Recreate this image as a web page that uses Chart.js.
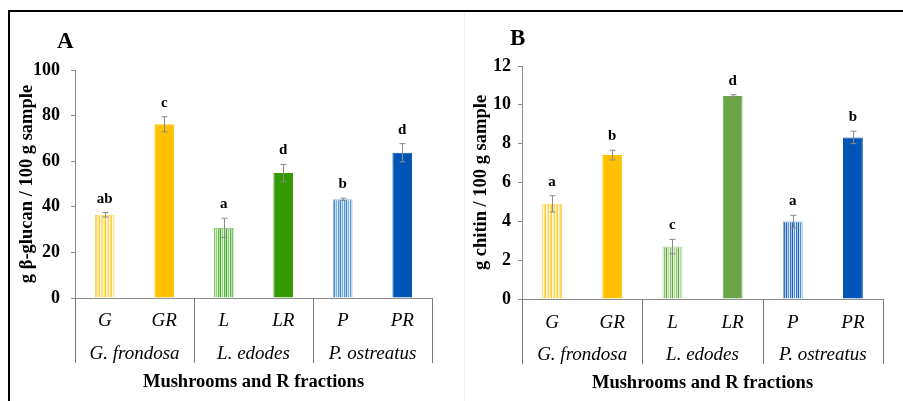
<!DOCTYPE html>
<html>
<head>
<meta charset="utf-8">
<script src="https://cdn.jsdelivr.net/npm/chart.js@4/dist/chart.umd.min.js"></script>
<style>
  html, body { margin: 0; padding: 0; background: #fff; }
  #wrap { position: relative; width: 903px; height: 401px; overflow: hidden; background: #fff; }
  .frame { position: absolute; left: 8px; top: 10px; width: 905px; height: 400px;
           border-top: 2px solid #000; border-left: 2px solid #000; }
  .divider { position: absolute; left: 464px; top: 12px; width: 1px; height: 389px; background: #efefef; }
  .panel { position: absolute; top: 0; height: 401px; }
  .tag { position: absolute; font: bold 23px "Liberation Serif", serif; color: #000; line-height: 1; }
</style>
</head>
<body>
<div id="wrap">
  <div class="frame"></div>
  <div class="divider"></div>
  <div class="panel" style="left:0;width:450px"><canvas id="chartA" width="450" height="401"></canvas></div>
  <div class="panel" style="left:452px;width:451px"><canvas id="chartB" width="451" height="401"></canvas></div>
  <div class="tag" style="left:57px;top:29px">A</div>
  <div class="tag" style="left:510px;top:26px">B</div>
</div>
<script>
// Fractions (x-axis, first row) and the species they come from (second row)
const fractions = ['G', 'GR', 'L', 'LR', 'P', 'PR'];
const species = ['G. frondosa', 'L. edodes', 'P. ostreatus'];
const xTitle = 'Mushrooms and R fractions';

// Panel A: beta-glucan content, g / 100 g sample
const glucan = [36.5, 76.2, 30.8, 54.8, 43.3, 63.7];
const glucanErr = [1.0, 3.3, 4.2, 3.8, 0.5, 4.0];
const glucanLetters = ['ab', 'c', 'a', 'd', 'b', 'd'];
const glucanAxis = { max: 100, step: 20, title: 'g β-glucan / 100 g sample' };

// Panel B: chitin content, g / 100 g sample
const chitin = [4.9, 7.41, 2.7, 10.46, 3.99, 8.32];
const chitinErr = [0.42, 0.25, 0.37, 0.06, 0.32, 0.32];
const chitinLetters = ['a', 'b', 'c', 'd', 'a', 'b'];
const chitinAxis = { max: 12, step: 2, title: 'g chitin / 100 g sample' };

const SERIF = '"Liberation Serif", "Times New Roman", serif';

// vertical-stripe fill for the whole-mushroom bars
function stripes(cols) {
  const c = document.createElement('canvas');
  c.width = cols.length; c.height = 4;
  const g = c.getContext('2d');
  cols.forEach((col, i) => { g.fillStyle = col; g.fillRect(i, 0, 1, 4); });
  return g.createPattern(c, 'repeat');
}

const fillsA = [
  stripes(['#FFD966', '#FFF2CC', '#FFE08A', '#FFCC33', '#FFF7E0', '#FFE699']),
  '#FFC000',
  stripes(['#8FD07A', '#E2F3DA', '#5DBB47', '#B5E0A5', '#3FA92E', '#D4EDCB']),
  '#339A00',
  stripes(['#7EB3E3', '#DDEBF7', '#5B9BD5', '#B0D0EE', '#3E86CC', '#CFE2F4']),
  '#0054B5'
];
const fillsB = [
  stripes(['#FFD966', '#FFF2CC', '#FFE08A', '#FFCC33', '#FFF7E0', '#FFE699']),
  '#FFC000',
  stripes(['#B8DBA6', '#E6F2DE', '#8CC46D', '#CFE6C2', '#5FA83A', '#DCEDD3']),
  '#6AA446',
  stripes(['#4F8FD6', '#E0ECF8', '#2F74C8', '#A9C9EC', '#1F5FB8', '#CADDF3']),
  '#0054B5'
];
const edgesA = ['#FFD34D', '#FFC000', '#7CC45F', '#339A00', '#8AB9E6', '#0054B5'];
const edgesB = ['#FFD34D', '#FFC000', '#A3D18A', '#6AA446', '#5E9BDC', '#0054B5'];

// error bars, significance letters and group separators
const annotate = {
  id: 'annotate',
  afterDatasetsDraw(chart, args, opts) {
    const { ctx, chartArea: ca, scales: { x, y } } = chart;
    const vals = chart.data.datasets[0].data;
    ctx.save();
    ctx.strokeStyle = '#8a8a8a';
    ctx.lineWidth = 1;
    vals.forEach((v, i) => {
      const px = Math.round(x.getPixelForValue(i)) + 0.5;
      const t = y.getPixelForValue(v + opts.err[i]);
      const b = y.getPixelForValue(v - opts.err[i]);
      ctx.beginPath();
      ctx.moveTo(px, t); ctx.lineTo(px, b);
      ctx.moveTo(px - 3, t); ctx.lineTo(px + 3, t);
      ctx.moveTo(px - 3, b); ctx.lineTo(px + 3, b);
      ctx.stroke();
    });
    ctx.fillStyle = '#000';
    ctx.font = 'bold 15px ' + SERIF;
    ctx.textAlign = 'center';
    ctx.textBaseline = 'alphabetic';
    vals.forEach((v, i) => {
      ctx.fillText(opts.letters[i], x.getPixelForValue(i), y.getPixelForValue(v + opts.err[i]) - 10);
    });
    ctx.strokeStyle = '#7a7a7a';
    const bounds = [ca.left,
      (x.getPixelForValue(1) + x.getPixelForValue(2)) / 2,
      (x.getPixelForValue(3) + x.getPixelForValue(4)) / 2,
      ca.right];
    bounds.forEach(bx => {
      const X = Math.round(bx) + 0.5;
      ctx.beginPath();
      ctx.moveTo(X, ca.bottom);
      ctx.lineTo(X, ca.bottom + opts.depth);
      ctx.stroke();
    });
    ctx.restore();
  }
};

function build(id, values, errs, letters, fills, edges, axis, geo) {
  return new Chart(document.getElementById(id), {
    type: 'bar',
    data: {
      labels: fractions,
      datasets: [{
        data: values,
        backgroundColor: fills,
        borderColor: edges,
        borderWidth: 1,
        barPercentage: 0.33,
        categoryPercentage: 1
      }]
    },
    options: {
      responsive: false,
      animation: false,
      layout: { padding: geo.pad },
      plugins: {
        legend: { display: false },
        tooltip: { enabled: false },
        annotate: { err: errs, letters: letters, depth: geo.depth }
      },
      scales: {
        x: {
          type: 'category',
          offset: true,
          weight: 0,
          grid: { display: false },
          border: { display: true, color: '#8c8c8c', width: 1 },
          ticks: { padding: geo.p1, color: '#000', maxRotation: 0, autoSkip: false,
                   font: { family: SERIF, size: 19, style: 'italic' } },
          afterFit(s) { s.height = geo.xH; }
        },
        x2: {
          type: 'category',
          labels: species,
          offset: true,
          position: 'bottom',
          weight: 1,
          grid: { display: false },
          border: { display: false },
          ticks: { padding: geo.p2, color: '#000', maxRotation: 0, autoSkip: false,
                   font: { family: SERIF, size: 19, style: 'italic' } },
          title: { display: true, text: xTitle, color: '#000', padding: 0,
                   font: { family: SERIF, size: 18.5, weight: 'bold' } },
          afterFit(s) { s.height = geo.x2H; }
        },
        y: {
          min: 0,
          max: axis.max,
          ticks: { stepSize: axis.step, padding: geo.yPad, color: '#000',
                   font: { family: SERIF, size: 18, weight: 'bold' } },
          grid: { display: true, drawOnChartArea: false, tickLength: 4, color: '#8c8c8c' },
          border: { display: true, color: '#8c8c8c', width: 1 },
          title: { display: true, text: axis.title, color: '#000', padding: 0,
                   font: { family: SERIF, size: 18.5, weight: 'bold' } },
          afterFit(s) { s.width = geo.yW; }
        }
      }
    },
    plugins: [annotate]
  });
}

build('chartA', glucan, glucanErr, glucanLetters, fillsA, edgesA, glucanAxis, {
  pad: { left: 16, right: 18, top: 70, bottom: 8 },
  yW: 59, xH: 33, x2H: 62, p1: 3.6, p2: 3.6, yPad: 11, depth: 65
});
build('chartB', chitin, chitinErr, chitinLetters, fillsB, edgesB, chitinAxis, {
  pad: { left: 18, right: 20, top: 66, bottom: 7 },
  yW: 52, xH: 33, x2H: 62, p1: 5, p2: 3.3, yPad: 7, depth: 65
});
</script>
</body>
</html>
